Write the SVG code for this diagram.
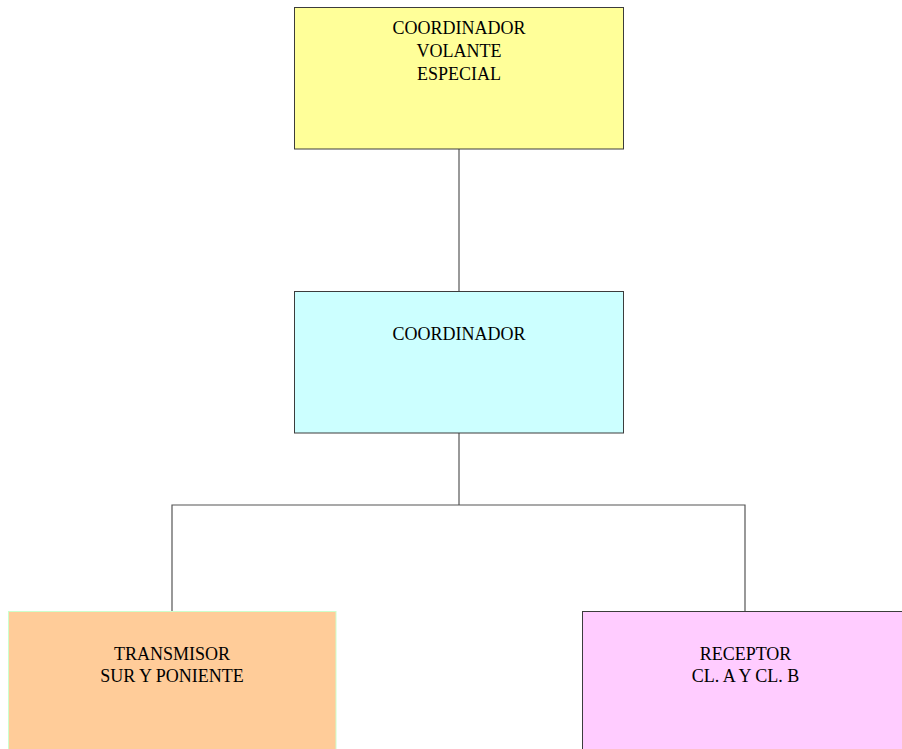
<svg xmlns="http://www.w3.org/2000/svg" width="902" height="749" viewBox="0 0 902 749">
  <style>
    .box { stroke: #3c3c3c; stroke-width: 1; }
    .lbl { font-family: "Liberation Serif", "Times New Roman", serif; font-size: 18px; fill: #000; text-anchor: middle; }
    .link { stroke: #555; stroke-width: 1.2; fill: none; }
  </style>
  <rect width="902" height="749" fill="#fff"/>

  <!-- connectors -->
  <g id="connectors">
    <line class="link" x1="459" y1="149" x2="459" y2="291.5"/>
    <polyline class="link" points="459,433 459,505"/>
    <polyline class="link" points="172,611.5 172,505 745,505 745,611.5"/>
  </g>

  <g id="coordinador-volante">
    <rect class="box" x="294.5" y="7.5" width="329" height="141.5" fill="#ffff99"/>
    <text class="lbl" x="459" y="34">COORDINADOR</text>
    <text class="lbl" x="459" y="56.5">VOLANTE</text>
    <text class="lbl" x="459" y="79.5">ESPECIAL</text>
  </g>

  <g id="coordinador">
    <rect class="box" x="294.5" y="291.5" width="329" height="141.5" fill="#ccffff"/>
    <text class="lbl" x="459" y="339.5">COORDINADOR</text>
  </g>

  <g id="transmisor">
    <rect x="8.5" y="611.5" width="327.5" height="145" fill="#ffcc99" stroke="#ccffcc" stroke-width="1"/>
    <text class="lbl" x="172" y="660">TRANSMISOR</text>
    <text class="lbl" x="172" y="682">SUR Y PONIENTE</text>
  </g>

  <g id="receptor">
    <rect class="box" x="582.5" y="611.5" width="330" height="145" fill="#ffccff"/>
    <text class="lbl" x="745.5" y="660">RECEPTOR</text>
    <text class="lbl" x="745.5" y="682">CL. A Y CL. B</text>
  </g>
</svg>
